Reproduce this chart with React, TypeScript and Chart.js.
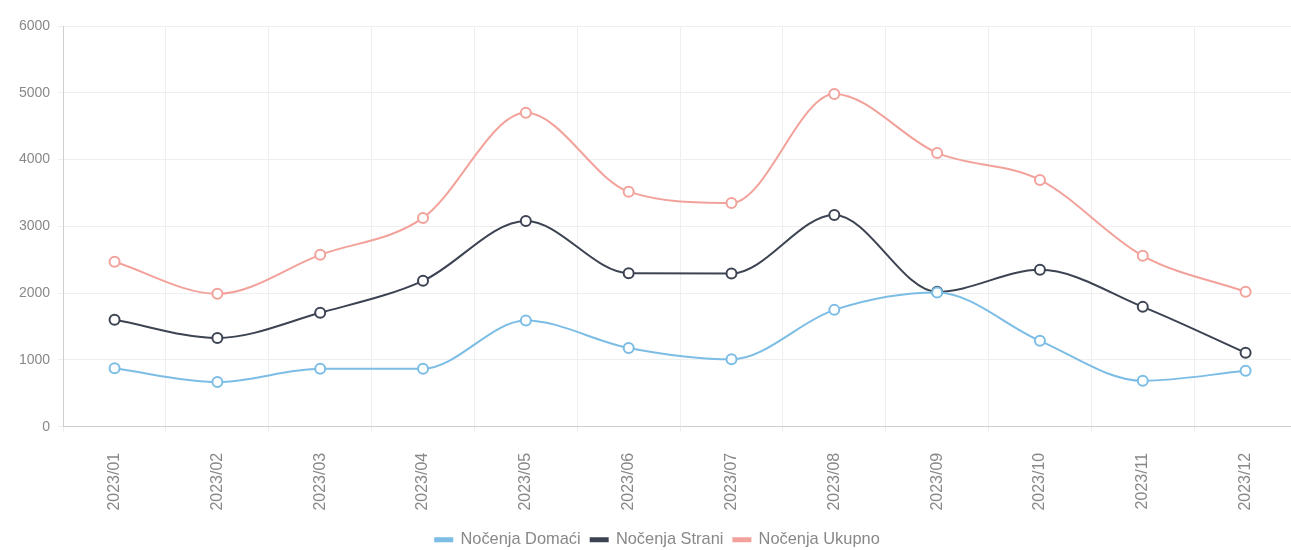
import React, { useEffect, useRef } from "react";
import { Chart, registerables } from "chart.js";

Chart.register(...registerables);

const categories = [
  "2023/01", "2023/02", "2023/03", "2023/04", "2023/05", "2023/06",
  "2023/07", "2023/08", "2023/09", "2023/10", "2023/11", "2023/12",
];
const domaci = [875, 670, 868, 870, 1590, 1180, 1010, 1750, 2010, 1287, 688, 838];
const strani = [1601, 1330, 1706, 2185, 3082, 2300, 2295, 3172, 2020, 2349, 1795, 1107];
const ukupno = [2470, 1990, 2574, 3127, 4700, 3520, 3350, 4983, 4100, 3696, 2559, 2020];
const yTicks = [0, 1000, 2000, 3000, 4000, 5000, 6000];

const FONT = "'Liberation Sans', Arial, sans-serif";

export default function App() {
  const ref = useRef<HTMLCanvasElement | null>(null);
  useEffect(() => {
    if (!ref.current) return;
    const mk = (label: string, data: number[], color: string) => ({
      label,
      data,
      borderColor: color,
      backgroundColor: color,
      pointBackgroundColor: "#ffffff",
      pointBorderColor: color,
      pointBorderWidth: 2,
      pointRadius: 5,
      borderWidth: 2,
      cubicInterpolationMode: "monotone" as const,
      fill: false,
    });
    const chart = new Chart(ref.current, {
      type: "line",
      data: {
        labels: categories,
        datasets: [
          mk("Nočenja Domaći", domaci, "#7cbde6"),
          mk("Nočenja Strani", strani, "#3c4352"),
          mk("Nočenja Ukupno", ukupno, "#f2a29b"),
        ],
      },
      options: {
        animation: false,
        responsive: false,
        maintainAspectRatio: false,
        layout: { padding: { top: 26, left: 11, right: 0, bottom: 0 } },
        plugins: {
          legend: {
            position: "bottom",
            labels: {
              boxWidth: 17,
              boxHeight: 3,
              color: "#888",
              font: { size: 16.4, family: FONT },
              padding: 10,
            },
          },
          tooltip: { enabled: false },
        },
        scales: {
          x: {
            offset: true,
            grid: { color: "#efefef", offset: true, tickLength: 6 },
            border: { color: "#cfcfcf" },
            afterFit: (scale: any) => {
              scale.height -= 9;
            },
            ticks: {
              minRotation: 90,
              maxRotation: 90,
              color: "#888",
              padding: 20,
              font: { size: 16, family: FONT },
            },
          },
          y: {
            min: 0,
            max: 6000,
            afterBuildTicks: (axis: any) => {
              axis.ticks = yTicks.map((v) => ({ value: v }));
            },
            grid: { color: "#efefef", tickLength: 5 },
            border: { color: "#cfcfcf" },
            ticks: {
              color: "#888",
              padding: 8,
              font: { size: 14, family: FONT },
              callback: (v: any) => String(v),
            },
          },
        },
      },
    });
    return () => chart.destroy();
  }, []);
  return (
    <div style={{ position: "fixed", left: 0, top: 0, width: 1291, height: 550, overflow: "hidden", background: "#fff" }}>
      <canvas ref={ref} width={1304} height={558} style={{ display: "block", width: 1304, height: 558 }} />
    </div>
  );
}
